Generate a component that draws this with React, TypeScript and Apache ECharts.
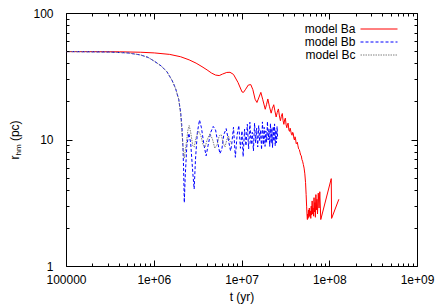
import React, { useEffect, useRef } from "react";
import * as echarts from "echarts";

// ---- data (t in yr, r_hm in pc) ----
const modelBa: [number, number][] = [
  [1e5, 50], [2e5, 50], [4e5, 49.8], [7e5, 49.4], [1e6, 48.8], [1.5e6, 47.5], [2e6, 45.5],
  [2.5e6, 43], [3e6, 40.5], [3.5e6, 38], [4e6, 35.8], [4.5e6, 33.8], [5e6, 32.6], [5.5e6, 32.3],
  [6e6, 33.2], [6.7e6, 34.2], [7.3e6, 34.3], [8e6, 33], [9e6, 28.5], [1.0e7, 24.0], [1.04e7, 23.8],
  [1.1e7, 25.2], [1.18e7, 27.2], [1.26e7, 27.4], [1.33e7, 25], [1.41e7, 21], [1.48e7, 19.8],
  [1.55e7, 21.5], [1.64e7, 23.8], [1.72e7, 21], [1.84e7, 17.5], [1.9e7, 19], [1.97e7, 21.1],
  [2.05e7, 18.5], [2.15e7, 16.3], [2.22e7, 17.8], [2.3e7, 19], [2.37e7, 17], [2.45e7, 15.2],
  [2.52e7, 16.5], [2.6e7, 17.6], [2.67e7, 15.5], [2.74e7, 14.2], [2.81e7, 15.4], [2.88e7, 16.2],
  [2.94e7, 14.2], [3.0e7, 13.3], [3.06e7, 14.4], [3.12e7, 14.9], [3.18e7, 13.2], [3.24e7, 12.5],
  [3.3e7, 13.4], [3.36e7, 13.6], [3.42e7, 12.0], [3.48e7, 11.7], [3.54e7, 12.4], [3.6e7, 12.4],
  [3.66e7, 11.1], [3.72e7, 10.9], [3.78e7, 11.5], [3.84e7, 11.3], [3.9e7, 10.3], [3.96e7, 10.0],
  [4.02e7, 10.6], [4.08e7, 10.2], [4.14e7, 9.4], [4.2e7, 9.3], [4.27e7, 9.6], [4.34e7, 9.0],
  [4.42e7, 8.5], [4.5e7, 8.4], [4.58e7, 8.0], [4.66e7, 7.6], [4.74e7, 7.5], [4.82e7, 7.0],
  [4.9e7, 6.8], [5.0e7, 6.4], [5.1e7, 6.0], [5.2e7, 5.4], [5.3e7, 4.6], [5.38e7, 3.7],
  [5.45e7, 3.0], [5.52e7, 2.5], [5.56e7, 2.35], [5.6e7, 2.6], [5.65e7, 2.4], [5.72e7, 2.8],
  [5.78e7, 2.45], [5.85e7, 2.9], [5.92e7, 2.5], [6.0e7, 2.75], [6.08e7, 2.4], [6.15e7, 3.0],
  [6.22e7, 2.55], [6.3e7, 3.3], [6.38e7, 2.6], [6.46e7, 2.9], [6.55e7, 2.5], [6.62e7, 3.5],
  [6.7e7, 2.7], [6.78e7, 3.2], [6.86e7, 2.45], [6.95e7, 3.7], [7.05e7, 2.8], [7.15e7, 3.4],
  [7.25e7, 2.6], [7.4e7, 3.8], [7.55e7, 2.9], [7.7e7, 3.9], [7.9e7, 2.35], [1.04e8, 4.95],
  [1.05e8, 2.4], [1.27e8, 3.4],
];

const modelBb: [number, number][] = [
  [1e5, 50], [3e5, 49.6], [5e5, 48.8], [7e5, 47], [8.5e5, 45], [1e6, 42], [1.2e6, 38.5],
  [1.4e6, 34.5], [1.6e6, 29.5], [1.75e6, 25.5], [1.9e6, 21], [2.0e6, 16.5], [2.07e6, 12.5],
  [2.12e6, 9], [2.16e6, 6], [2.2e6, 3.2], [2.25e6, 5], [2.35e6, 9], [2.48e6, 11.3], [2.6e6, 9.5],
  [2.75e6, 5.5], [2.85e6, 4.1], [2.95e6, 7], [3.1e6, 11.5], [3.28e6, 14.4], [3.45e6, 12.5],
  [3.7e6, 9], [3.9e6, 7.5], [4.1e6, 9], [4.4e6, 11.5], [4.7e6, 12.8], [5.0e6, 12], [5.3e6, 9.5],
  [5.6e6, 7.8], [5.9e6, 8.5], [6.2e6, 11], [6.6e6, 12.3], [7.0e6, 10], [7.4e6, 8.2], [7.6e6, 9.0],
  [8.0e6, 12.6], [8.4e6, 7.3], [8.8e6, 11.0], [9.2e6, 13.0], [9.6e6, 8.6], [1.0e7, 11.8],
  [1.03e7, 7.4], [1.07e7, 12.2], [1.11e7, 9.0], [1.15e7, 13.3], [1.19e7, 8.5], [1.23e7, 13.8],
  [1.27e7, 9.2], [1.31e7, 11.5], [1.35e7, 8.2], [1.39e7, 13.6], [1.43e7, 9.5], [1.47e7, 12.4],
  [1.51e7, 8.8], [1.55e7, 13.0], [1.59e7, 9.8], [1.63e7, 12.0], [1.67e7, 8.4], [1.71e7, 13.9],
  [1.75e7, 9.2], [1.79e7, 12.6], [1.83e7, 8.9], [1.87e7, 11.8], [1.91e7, 9.6], [1.95e7, 14.0],
  [1.99e7, 10.0], [2.03e7, 12.2], [2.07e7, 8.9], [2.11e7, 13.5], [2.15e7, 9.4], [2.19e7, 12.4],
  [2.23e7, 8.7], [2.27e7, 12.8], [2.31e7, 9.8], [2.35e7, 13.4], [2.39e7, 9.0], [2.43e7, 12.0],
  [2.47e7, 9.5], [2.51e7, 12.8], [2.55e7, 10.2],
];

const modelBc: [number, number][] = [
  [1e5, 50], [3e5, 49.6], [5e5, 48.8], [7e5, 47], [8.5e5, 45], [1e6, 42], [1.2e6, 38.5],
  [1.4e6, 34.5], [1.6e6, 29.5], [1.75e6, 25.5], [1.9e6, 21], [2.0e6, 16], [2.08e6, 11],
  [2.15e6, 8], [2.2e6, 7.2], [2.3e6, 9], [2.42e6, 12], [2.5e6, 13], [2.6e6, 11.5], [2.75e6, 9],
  [2.85e6, 8.8], [3.0e6, 10.5], [3.2e6, 11.8], [3.4e6, 10.8], [3.6e6, 9.2], [3.8e6, 8.8],
  [4.0e6, 10], [4.3e6, 11.2], [4.6e6, 10.2], [4.9e6, 8.6], [5.2e6, 9.2], [5.5e6, 10.8],
  [5.8e6, 11], [6.1e6, 9.5], [6.4e6, 8.8], [6.7e6, 10], [7.0e6, 10.8], [7.3e6, 9.8], [7.6e6, 9.3],
];

const xTickValues = [1e5, 1e6, 1e7, 1e8, 1e9];
const xTickLabels = ["100000", "1e+06", "1e+07", "1e+08", "1e+09"];
const xMinorValues = [
  2e5, 3e5, 4e5, 5e5, 6e5, 7e5, 8e5, 9e5, 2e6, 3e6, 4e6, 5e6, 6e6, 7e6, 8e6, 9e6,
  2e7, 3e7, 4e7, 5e7, 6e7, 7e7, 8e7, 9e7, 2e8, 3e8, 4e8, 5e8, 6e8, 7e8, 8e8, 9e8,
];
const yTickValues = [1, 10, 100];
const yTickLabels = ["1", "10", "100"];
const yMinorValues = [2, 3, 4, 5, 6, 7, 8, 9, 20, 30, 40, 50, 60, 70, 80, 90];

const X_MIN = 1e5, X_MAX = 1e9, Y_MIN = 1, Y_MAX = 100;
const FONT = "Liberation Sans, Arial, Helvetica, sans-serif";

function crisp(v: number) {
  return Math.round(v - 0.5) + 0.5;
}

export default function App() {
  const ref = useRef<HTMLDivElement>(null);
  useEffect(() => {
    if (!ref.current) return;
    const chart = echarts.init(ref.current, undefined, { renderer: "svg" });

    const xTickData = [
      ...xTickValues.map((t) => [t, Y_MIN, 6]),
      ...xMinorValues.map((t) => [t, Y_MIN, 3]),
    ];
    const yTickData = [
      ...yTickValues.map((v) => [X_MIN, v, 6]),
      ...yMinorValues.map((v) => [X_MIN, v, 3]),
    ];

    const option: any = {
      animation: false,
      backgroundColor: "#fff",
      grid: {
        left: 66.5, top: 13.5, right: 18.5, bottom: 38.5,
        show: true, borderColor: "#000", borderWidth: 1, backgroundColor: "transparent",
        outerBoundsMode: "none",
      },
      legend: {
        data: ["model Ba", "model Bb", "model Bc"],
        orient: "vertical",
        align: "right",
        right: 33,
        top: 18,
        itemWidth: 37,
        itemHeight: 11,
        itemGap: 1,
        itemStyle: { opacity: 0, borderWidth: 0 },
        lineStyle: { width: 1 },
        textStyle: { fontFamily: FONT, fontSize: 12, color: "#000", lineHeight: 11.5 },
      },
      xAxis: {
        type: "log", logBase: 10, min: X_MIN, max: X_MAX,
        axisLine: { show: false }, axisTick: { show: false }, splitLine: { show: false },
        axisLabel: {
          fontFamily: FONT, fontSize: 12, color: "#000", margin: 7,
          formatter: (v: number) => {
            const i = xTickValues.findIndex((t) => Math.abs(Math.log10(t) - Math.log10(v)) < 1e-6);
            return i >= 0 ? xTickLabels[i] : "";
          },
        },
        name: "t (yr)", nameLocation: "middle", nameGap: 24,
        nameTextStyle: { fontFamily: FONT, fontSize: 12, color: "#000" },
      },
      yAxis: {
        type: "log", logBase: 10, min: Y_MIN, max: Y_MAX,
        axisLine: { show: false }, axisTick: { show: false }, splitLine: { show: false },
        axisLabel: {
          fontFamily: FONT, fontSize: 12, color: "#000", margin: 13,
          formatter: (v: number) => {
            const i = yTickValues.findIndex((t) => Math.abs(Math.log10(t) - Math.log10(v)) < 1e-6);
            return i >= 0 ? yTickLabels[i] : "";
          },
        },
        name: "{m|r}{s|hm}{m| (pc)}", nameLocation: "middle", nameGap: 37,
        nameTextStyle: {
          fontFamily: FONT, color: "#000",
          rich: {
            m: { fontFamily: FONT, fontSize: 12, color: "#000", lineHeight: 14 },
            s: { fontFamily: FONT, fontSize: 8, color: "#000", lineHeight: 8, padding: [8, 0, 0, 0] },
          },
        },
      },
      series: [
        {
          name: "model Ba", type: "line", data: modelBa, symbol: "none", showSymbol: false,
          lineStyle: { color: "#ff0000", width: 1 }, itemStyle: { color: "#ff0000" }, z: 2,
        },
        {
          name: "model Bb", type: "line", data: modelBb, symbol: "none", showSymbol: false,
          lineStyle: { color: "#0000ff", width: 1, type: [3, 2] }, itemStyle: { color: "#0000ff" }, z: 3,
        },
        {
          name: "model Bc", type: "line", data: modelBc, symbol: "none", showSymbol: false,
          lineStyle: { color: "#808080", width: 1, type: [1.5, 1] }, itemStyle: { color: "#808080" }, z: 4,
        },
        {
          type: "custom", coordinateSystem: "cartesian2d", silent: true, z: 10, clip: false,
          data: xTickData,
          renderItem: (_p: any, api: any) => {
            const t = api.value(0), len = api.value(2);
            const b = api.coord([t, Y_MIN]);
            const tp = api.coord([t, Y_MAX]);
            const x = crisp(b[0]);
            return {
              type: "group",
              children: [
                { type: "line", shape: { x1: x, y1: b[1], x2: x, y2: b[1] - len }, style: { stroke: "#000", lineWidth: 1 } },
                { type: "line", shape: { x1: x, y1: tp[1], x2: x, y2: tp[1] + len }, style: { stroke: "#000", lineWidth: 1 } },
              ],
            };
          },
        },
        {
          type: "custom", coordinateSystem: "cartesian2d", silent: true, z: 10, clip: false,
          data: yTickData,
          renderItem: (_p: any, api: any) => {
            const v = api.value(1), len = api.value(2);
            const l = api.coord([X_MIN, v]);
            const r = api.coord([X_MAX, v]);
            const y = crisp(l[1]);
            return {
              type: "group",
              children: [
                { type: "line", shape: { x1: l[0], y1: y, x2: l[0] + len, y2: y }, style: { stroke: "#000", lineWidth: 1 } },
                { type: "line", shape: { x1: r[0], y1: y, x2: r[0] - len, y2: y }, style: { stroke: "#000", lineWidth: 1 } },
              ],
            };
          },
        },
      ],
    };
    chart.setOption(option);
    return () => chart.dispose();
  }, []);
  return <div ref={ref} style={{ position: "fixed", left: 0, top: 0, width: 436, height: 305 }} />;
}
